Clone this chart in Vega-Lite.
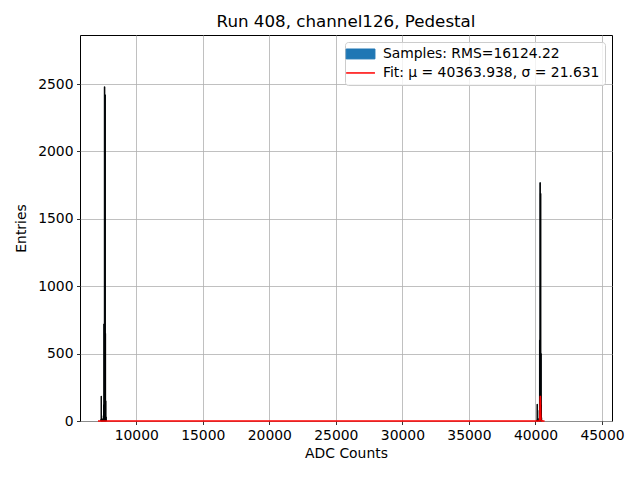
{
  "$schema": "https://vega.github.io/schema/vega-lite/v6.json",
  "width": 532,
  "height": 386,
  "autosize": {"type": "none"},
  "padding": {"left": 80, "top": 35, "right": 28, "bottom": 59},
  "background": "white",
  "title": {"text": "Run 408, channel126, Pedestal", "fontSize": 16.7, "fontWeight": "normal", "font": "DejaVu Sans", "color": "black", "baseline": "alphabetic", "offset": 8, "dy": 17, "anchor": "middle"},
  "config": {
    "font": "DejaVu Sans",
    "view": {"stroke": "black", "strokeWidth": 1},
    "axis": {
      "domain": false,
      "grid": true,
      "gridColor": "#b0b0b0",
      "gridWidth": 0.8,
      "gridOpacity": 1,
      "tickColor": "black",
      "tickWidth": 0.8,
      "tickSize": 3.5,
      "labelFont": "DejaVu Sans",
      "labelFontSize": 13.9,
      "labelColor": "black",
      "labelPadding": 3.5,
      "titleFont": "DejaVu Sans",
      "titleFontSize": 13.9,
      "titleFontWeight": "normal",
      "titleColor": "black"
    }
  },
  "datasets": {
    "hist": [
      {"bin_start": 7340, "bin_end": 7360, "count": 10},
      {"bin_start": 7360, "bin_end": 7380, "count": 185},
      {"bin_start": 7380, "bin_end": 7400, "count": 15},
      {"bin_start": 7400, "bin_end": 7420, "count": 5},
      {"bin_start": 7420, "bin_end": 7440, "count": 3},
      {"bin_start": 7440, "bin_end": 7460, "count": 5},
      {"bin_start": 7460, "bin_end": 7480, "count": 8},
      {"bin_start": 7480, "bin_end": 7500, "count": 12},
      {"bin_start": 7500, "bin_end": 7520, "count": 20},
      {"bin_start": 7520, "bin_end": 7540, "count": 40},
      {"bin_start": 7540, "bin_end": 7560, "count": 120},
      {"bin_start": 7560, "bin_end": 7600, "count": 720},
      {"bin_start": 7600, "bin_end": 7640, "count": 2480},
      {"bin_start": 7640, "bin_end": 7680, "count": 2420},
      {"bin_start": 7680, "bin_end": 7700, "count": 650},
      {"bin_start": 7700, "bin_end": 7720, "count": 150},
      {"bin_start": 7720, "bin_end": 7740, "count": 30},
      {"bin_start": 7740, "bin_end": 7760, "count": 5},
      {"bin_start": 40100, "bin_end": 40120, "count": 5},
      {"bin_start": 40120, "bin_end": 40140, "count": 125},
      {"bin_start": 40140, "bin_end": 40160, "count": 10},
      {"bin_start": 40160, "bin_end": 40180, "count": 3},
      {"bin_start": 40240, "bin_end": 40260, "count": 8},
      {"bin_start": 40260, "bin_end": 40280, "count": 20},
      {"bin_start": 40280, "bin_end": 40300, "count": 80},
      {"bin_start": 40300, "bin_end": 40330, "count": 600},
      {"bin_start": 40330, "bin_end": 40370, "count": 1769},
      {"bin_start": 40370, "bin_end": 40410, "count": 1689},
      {"bin_start": 40410, "bin_end": 40430, "count": 500},
      {"bin_start": 40430, "bin_end": 40450, "count": 120},
      {"bin_start": 40450, "bin_end": 40470, "count": 25},
      {"bin_start": 40470, "bin_end": 40490, "count": 5}
    ],
    "fit": [
      {"x": 7125, "y": 0},
      {"x": 40250, "y": 0},
      {"x": 40277.4, "y": 0.06},
      {"x": 40299.0, "y": 2.1},
      {"x": 40309.8, "y": 8.2},
      {"x": 40320.7, "y": 25.4},
      {"x": 40331.5, "y": 61.1},
      {"x": 40342.3, "y": 114.0},
      {"x": 40353.1, "y": 165.9},
      {"x": 40363.9, "y": 188},
      {"x": 40374.8, "y": 165.9},
      {"x": 40385.6, "y": 114.0},
      {"x": 40396.4, "y": 61.1},
      {"x": 40407.2, "y": 25.4},
      {"x": 40418.0, "y": 8.2},
      {"x": 40428.8, "y": 2.1},
      {"x": 40450.5, "y": 0.06},
      {"x": 40683, "y": 0}
    ]
  },
  "layer": [
    {
      "data": {"name": "hist"},
      "mark": {"type": "rect", "stroke": "black", "strokeWidth": 1},
      "encoding": {
        "x": {"field": "bin_start", "type": "quantitative", "scale": {"domain": [5773, 45751], "nice": false, "zero": false},
              "axis": {"values": [10000, 15000, 20000, 25000, 30000, 35000, 40000, 45000], "format": "d", "title": "ADC Counts", "titlePadding": 5}},
        "x2": {"field": "bin_end"},
        "y": {"field": "count", "type": "quantitative", "scale": {"domain": [0, 2864], "nice": false},
              "axis": {"values": [0, 500, 1000, 1500, 2000, 2500], "format": "d", "title": "Entries", "titlePadding": 9}},
        "y2": {"datum": 0},
        "color": {
          "datum": "Samples: RMS=16124.22",
          "type": "nominal",
          "scale": {"domain": ["Samples: RMS=16124.22", "Fit: μ = 40363.938, σ = 21.631"], "range": ["#1f77b4", "red"]},
          "legend": {
            "title": null,
            "orient": "top-right",
            "offset": 7,
            "padding": 5,
            "rowPadding": 4,
            "symbolSize": 324,
            "labelOffset": 19,
            "labelLimit": 400,
            "labelFont": "DejaVu Sans",
            "labelFontSize": 13.9,
            "labelColor": "black",
            "fillColor": "rgba(255,255,255,0.8)",
            "strokeColor": "#cccccc",
            "cornerRadius": 3,
            "encode": {
              "symbols": {
                "update": {
                  "shape": {"signal": "datum.index == 0 ? 'M-1.2,-0.55H2V0.55H-1.2Z' : 'M-1.2,0H2'"},
                  "fill": {"signal": "datum.index == 0 ? '#1f77b4' : 'transparent'"},
                  "stroke": {"signal": "datum.index == 0 ? 'black' : 'red'"},
                  "strokeWidth": {"signal": "datum.index == 0 ? 1 : 1.5"},
                  "opacity": {"value": 1},
                  "fillOpacity": {"value": 1},
                  "strokeOpacity": {"value": 1}
                }
              }
            }
          }
        }
      }
    },
    {
      "data": {"name": "fit"},
      "mark": {"type": "line", "strokeWidth": 1.5},
      "encoding": {
        "x": {"field": "x", "type": "quantitative"},
        "y": {"field": "y", "type": "quantitative"},
        "color": {
          "datum": "Fit: μ = 40363.938, σ = 21.631",
          "type": "nominal",
          "legend": {
            "title": null,
            "orient": "top-right",
            "offset": 7,
            "padding": 5,
            "rowPadding": 4,
            "symbolSize": 324,
            "labelOffset": 19,
            "labelLimit": 400,
            "labelFont": "DejaVu Sans",
            "labelFontSize": 13.9,
            "labelColor": "black",
            "fillColor": "rgba(255,255,255,0.8)",
            "strokeColor": "#cccccc",
            "cornerRadius": 3,
            "encode": {
              "symbols": {
                "update": {
                  "shape": {"signal": "datum.index == 0 ? 'M-1.2,-0.55H2V0.55H-1.2Z' : 'M-1.2,0H2'"},
                  "fill": {"signal": "datum.index == 0 ? '#1f77b4' : 'transparent'"},
                  "stroke": {"signal": "datum.index == 0 ? 'black' : 'red'"},
                  "strokeWidth": {"signal": "datum.index == 0 ? 1 : 1.5"},
                  "opacity": {"value": 1},
                  "fillOpacity": {"value": 1},
                  "strokeOpacity": {"value": 1}
                }
              }
            }
          }
        }
      }
    }
  ]
}
